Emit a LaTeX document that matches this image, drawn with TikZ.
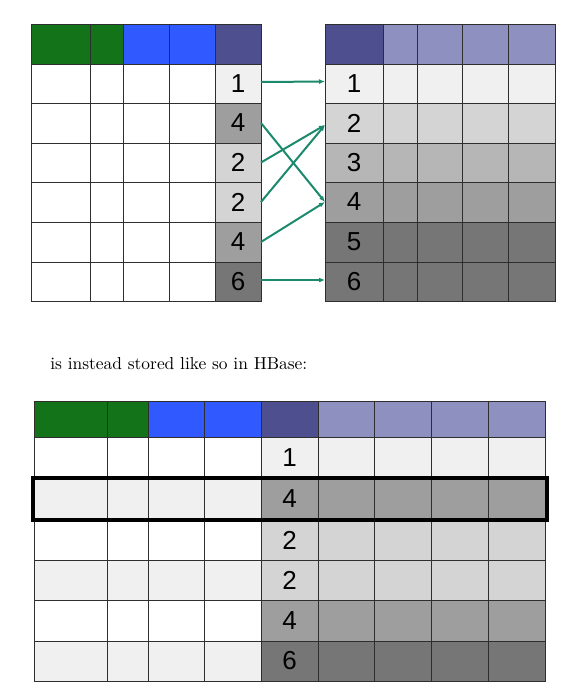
\documentclass[tikz,border=0pt]{standalone}
\usepackage{fontspec}
\newfontfamily\arialf{Liberation Sans}
\usetikzlibrary{arrows.meta}
\definecolor{hgreen}{HTML}{137319}
\definecolor{hblue}{HTML}{3059FF}
\definecolor{hdpur}{HTML}{4D4F8F}
\definecolor{hlpur}{HTML}{8E90C0}
\definecolor{gA}{HTML}{F0F0F0}
\definecolor{gB}{HTML}{D4D4D4}
\definecolor{gC}{HTML}{B6B6B6}
\definecolor{gD}{HTML}{9E9E9E}
\definecolor{gE}{HTML}{767676}
\definecolor{arrowc}{HTML}{1B8A6C}
\definecolor{gridc}{HTML}{2E2E2E}
\newcommand\mycell[7]{%
  \pgfmathsetmacro\mycw{#4-#2}%
  \pgfmathsetmacro\mych{#5-#3}%
  \node[keycell, fill=#6, minimum width=\mycw pt, minimum height=\mych pt] (#1) at ({(#2+#4)/2},{(#3+#5)/2}) {#7};}
\begin{document}
\begin{tikzpicture}[x=1pt,y=-1pt,
  gridline/.style={draw=gridc, line width=0.9pt},
  keycell/.style={rectangle, draw=gridc, line width=0.9pt, inner sep=0pt, outer sep=0pt,
    font=\arialf\fontsize{26}{26}\selectfont},
  conn/.style={draw=arrowc, line width=2pt, -{Latex[length=6pt,width=5pt]}},
  hilite/.style={draw=black, line width=4pt}]
\useasboundingbox (0,0) rectangle (585,689);
% ---------- top-left table ----------
\foreach \xa/\xb/\c in {31/90/hgreen,90/123/hgreen,123/169/hblue,169/215/hblue,215/261/hdpur}
  \draw[gridline, fill=\c] (\xa,24) rectangle (\xb,64);
\foreach \ya/\yb/\c/\k/\n in {64/103/gA/1/1,103/143/gD/4/2,143/182/gB/2/3,182/222/gB/2/4,222/262/gD/4/5,262/301/gE/6/6}{
  \foreach \xa/\xb in {31/90,90/123,123/169,169/215}
    \draw[gridline, fill=white] (\xa,\ya) rectangle (\xb,\yb);
  \mycell{L\n}{215}{\ya}{261}{\yb}{\c}{\k}
}
% ---------- top-right table ----------
\foreach \xa/\xb/\c in {325/383/hdpur,383/417/hlpur,417/462/hlpur,462/508/hlpur,508/555/hlpur}
  \draw[gridline, fill=\c] (\xa,24) rectangle (\xb,64);
\foreach \ya/\yb/\c/\k/\n in {64/103/gA/1/1,103/143/gB/2/2,143/182/gC/3/3,182/222/gD/4/4,222/262/gE/5/5,262/301/gE/6/6}{
  \foreach \xa/\xb in {383/417,417/462,462/508,508/555}
    \draw[gridline, fill=\c] (\xa,\ya) rectangle (\xb,\yb);
  \mycell{R\n}{325}{\ya}{383}{\yb}{\c}{\k}
}
% ---------- connectors ----------
\draw[conn] ([yshift=1.5pt]L1.east) -- ([yshift=2pt]R1.west);
\draw[conn] (L2.east) -- (R4.west);
\draw[conn] (L3.east) -- ([yshift=-2pt]R2.west);
\draw[conn] (L4.east) -- ([yshift=-2pt]R2.west);
\draw[conn] (L5.east) -- (R4.west);
\draw[conn] ([yshift=1.5pt]L6.east) -- ([yshift=1.5pt]R6.west);
% ---------- caption ----------
\node[anchor=base west, scale=1.74, inner sep=0pt] (caption) at (50,369) {is instead stored like so in HBase:};
% ---------- bottom table ----------
\foreach \xa/\xb/\c in {34/107/hgreen,107/148/hgreen,148/204/hblue,204/261/hblue,261/318/hdpur,318/374/hlpur,374/431/hlpur,431/488/hlpur,488/545/hlpur}
  \draw[gridline, fill=\c] (\xa,401) rectangle (\xb,437);
\foreach \ya/\yb/\lc/\c/\k/\n in {437/478/white/gA/1/1,478/520/gA/gD/4/2,520/560/white/gB/2/3,560/600/gA/gB/2/4,600/641/white/gD/4/5,641/681/gA/gE/6/6}{
  \foreach \xa/\xb in {34/107,107/148,148/204,204/261}
    \draw[gridline, fill=\lc] (\xa,\ya) rectangle (\xb,\yb);
  \foreach \xa/\xb in {318/374,374/431,431/488,488/545}
    \draw[gridline, fill=\c] (\xa,\ya) rectangle (\xb,\yb);
  \mycell{B\n}{261}{\ya}{318}{\yb}{\c}{\k}
}
\draw[hilite] (32.5,477.5) rectangle (546.5,519.5);
\end{tikzpicture}
\end{document}
